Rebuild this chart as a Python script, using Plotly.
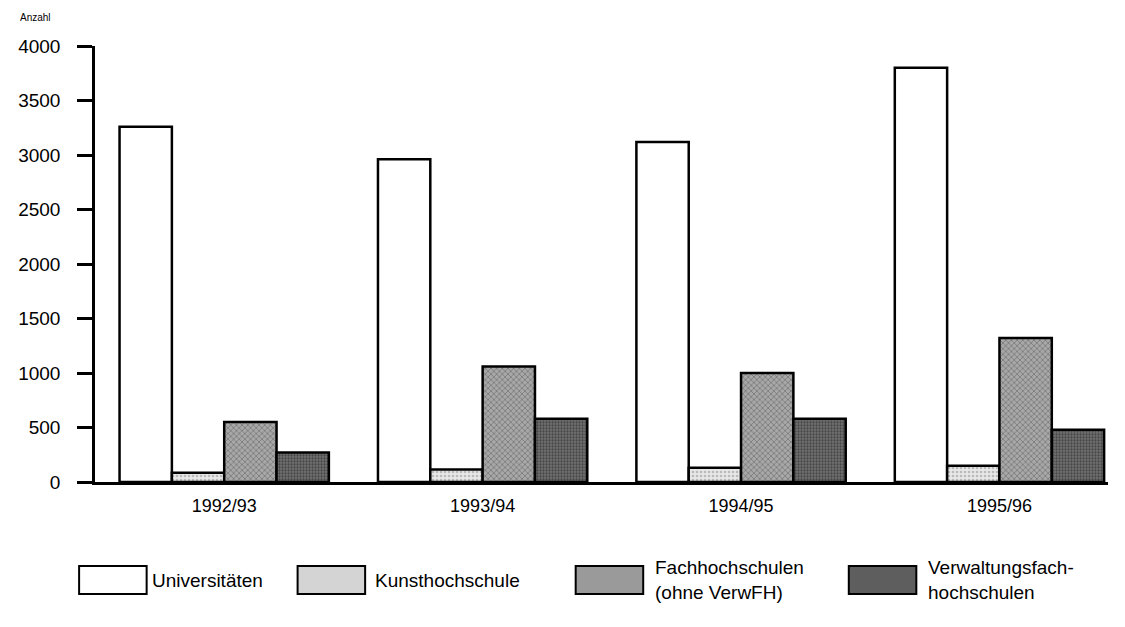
import plotly.graph_objects as go

years = ["1992/93", "1993/94", "1994/95", "1995/96"]
universitaeten = [3260, 2960, 3120, 3800]
kunsthochschule = [85, 115, 130, 150]
fachhochschulen = [550, 1060, 1000, 1320]
verwaltungsfh = [270, 580, 580, 480]

series_names = ["Universitäten", "Kunsthochschule", "Fachhochschulen<br>(ohne VerwFH)",
                "Verwaltungsfach-<br>hochschulen"]
series_values = [universitaeten, kunsthochschule, fachhochschulen, verwaltungsfh]

styles = [
    dict(color="white", pattern=None, legend="white"),
    dict(color="#e0e0e0", pattern=dict(shape=".", fgcolor="#8a8a8a", bgcolor="#e8e8e8", size=4, solidity=0.35), legend="#d4d4d4"),
    dict(color="#9a9a9a", pattern=dict(shape="x", fgcolor="#444444", bgcolor="#a8a8a8", size=4, solidity=0.35), legend="#9a9a9a"),
    dict(color="#5a5a5a", pattern=dict(shape=".", fgcolor="#1a1a1a", bgcolor="#727272", size=3, solidity=0.45), legend="#5e5e5e"),
]

FONT = "Liberation Sans, Arial, Helvetica, sans-serif"
OFF = 8  # default page margin around the figure div
W, H = 1110, 610
PL, PR, PT, PB = 88, 1108, 46, 482   # plot area in page pixels
ML, MT = PL - OFF, PT - OFF
MR = (W + OFF) - PR
MB = (H + OFF) - PB

fig = go.Figure()
for name, vals, st in zip(series_names, series_values, styles):
    marker = dict(color=st["color"], line=dict(color="black", width=2.5))
    if st["pattern"]:
        marker["pattern"] = st["pattern"]
    fig.add_trace(go.Bar(x=years, y=vals, name=name, marker=marker, showlegend=False))

def px_x(p):
    return (p - PL) / (PR - PL)

def px_y(p):
    return (PB - p) / (PB - PT)

# custom legend with large swatches like the original
LEG_Y = 580
legend_items = [
    (72, 143, series_names[0]),
    (292, 368, series_names[1]),
    (572, 650, series_names[2]),
    (847, 925, series_names[3]),
]
for (bx, tx, label), st in zip(legend_items, styles):
    fig.add_shape(type="rect", xref="paper", yref="paper",
                  x0=px_x(bx), x1=px_x(bx + 68), y0=px_y(LEG_Y + 14), y1=px_y(LEG_Y - 14),
                  fillcolor=st["legend"], line=dict(color="black", width=2))
    fig.add_annotation(xref="paper", yref="paper", x=px_x(tx), y=px_y(LEG_Y),
                       text=label, showarrow=False, xanchor="left", yanchor="middle",
                       align="left", font=dict(family=FONT, size=19, color="black"))

fig.add_annotation(xref="paper", yref="paper", x=px_x(10), y=px_y(17), text="Anzahl",
                   showarrow=False, xanchor="left", yanchor="middle",
                   font=dict(family=FONT, size=10, color="black"))

fig.update_layout(
    width=W, height=H,
    margin=dict(l=ML, r=MR, t=MT, b=MB),
    paper_bgcolor="white", plot_bgcolor="white",
    barmode="group", bargap=0.19, bargroupgap=0,
    font=dict(family=FONT, color="black"),
    showlegend=False,
)
fig.update_xaxes(range=[-0.5, 3.42], showline=True, linecolor="black", linewidth=2.5,
                 showgrid=False, ticks="", tickfont=dict(size=18, family=FONT),
                 ticklabelstandoff=6, zeroline=False)
fig.update_yaxes(range=[0, 4000], dtick=500, showline=True, linecolor="black", linewidth=2.5,
                 showgrid=False, ticks="outside", ticklen=15, tickwidth=2.5, tickcolor="black",
                 tickfont=dict(size=19, family=FONT), ticklabelstandoff=13, zeroline=False)

fig.write_html("out.html")
